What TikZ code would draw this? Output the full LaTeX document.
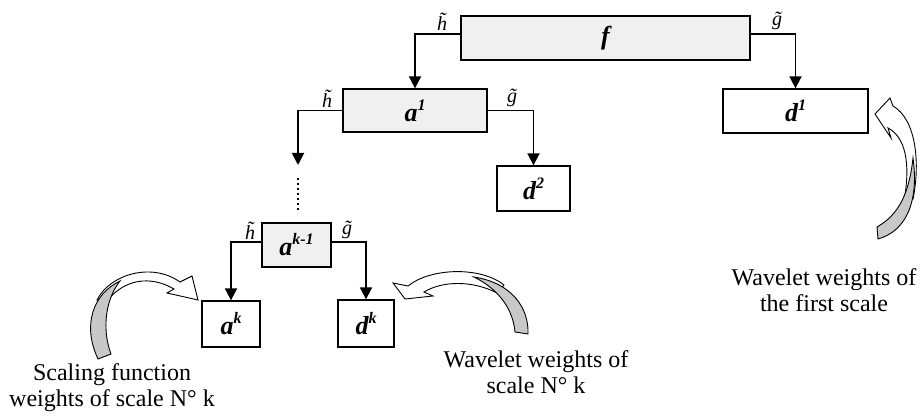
\documentclass[tikz,border=0pt]{standalone}
\usepackage{fontspec}
\setmainfont{Liberation Serif}
\usetikzlibrary{arrows.meta}
\definecolor{boxgray}{RGB}{240,240,240}
\definecolor{ribgray}{RGB}{200,200,200}
\newcommand\supsc[1]{\raisebox{0.42em}{\fontsize{16}{16}\selectfont #1}}
\tikzset{
  box/.style={draw, line width=1.3pt, inner sep=0pt, font=\fontsize{26}{28}\selectfont\bfseries\itshape},
  graybox/.style={box, fill=boxgray},
  arr/.style={line width=1.8pt, -{Triangle[width=12pt,length=12pt]}},
  filt/.style={inner sep=0pt, font=\fontsize{20}{22}\selectfont\itshape},
  captxt/.style={inner sep=0pt, align=center, anchor=north, font=\fontsize{24}{25.5}\selectfont},
  ribbon/.style={draw, line width=0.9pt, fill=white},
  crescent/.style={draw, line width=0.9pt, fill=ribgray}
}
\begin{document}
\begin{tikzpicture}[x=1pt,y=-1pt]
\useasboundingbox (0,0) rectangle (922,417);
% boxes
\node[graybox, minimum width=289pt, minimum height=44pt] (f) at (605.5,38) {f};
\node[graybox, minimum width=144pt, minimum height=43pt] (a1) at (415,110.5) {a\supsc{1}};
\node[box, minimum width=145pt, minimum height=44pt] (d1) at (795.5,111) {d\supsc{1}};
\node[box, minimum width=73pt, minimum height=45pt] (d2) at (533.5,188.5) {d\supsc{2}};
\node[graybox, minimum width=69pt, minimum height=44pt] (ak1) at (296.5,245) {a\supsc{k-1}};
\node[box, minimum width=58pt, minimum height=46pt] (ak) at (231,324) {a\supsc{k}};
\node[box, minimum width=56pt, minimum height=47pt] (dk) at (366,323.5) {d\supsc{k}};
% connectors
\draw[arr] ([yshift=4pt]f.west) -| (a1.north);
\draw[arr] ([yshift=4pt]f.east) -| (d1.north);
\coordinate (dotend) at (298,165);
\coordinate (dotA) at (298,178);
\coordinate (dotB) at (298,213);
\draw[arr] (a1.west) -| (dotend);
\draw[line width=2pt, dash pattern=on 2pt off 3pt] (dotA) -- (dotB);
\draw[arr] (a1.east) -| (d2.north);
\draw[arr] ([yshift=3pt]ak1.west) -| (ak.north);
\draw[arr] ([yshift=3pt]ak1.east) -| (dk.north);
% filter labels
\node[filt] (hf) at (442,22) {\~{h}};
\node[filt] (gf) at (777,21) {\~{g}};
\node[filt] (ha) at (327,99) {\~{h}};
\node[filt] (ga) at (512,98) {\~{g}};
\node[filt] (hk) at (250,231) {\~{h}};
\node[filt] (gk) at (347,230) {\~{g}};
% captions
\node[captxt] (c1) at (824,268.5) {Wavelet weights of\\the first scale};
\node[captxt] (c2) at (536,350.5) {Wavelet weights of\\scale N° k};
\node[captxt] (c3) at (112,363.5) {Scaling function\\weights of scale N° k};
% curved arrow: left (to a^k)
\draw[ribbon] (97,300) .. controls (110,274) and (152,262) .. (180,282)
  -- (192,276) -- (198,300) -- (167,293) -- (174,289)
  .. controls (150,275) and (124,279) .. (106,302) -- cycle;
\draw[crescent] (98,359) .. controls (82,325) and (93,294) .. (120,281)
  .. controls (105,300) and (102,330) .. (111,354) -- cycle;
% curved arrow: middle (to d^k)
\draw[ribbon] (408,286) .. controls (430,268) and (480,266) .. (504,285)
  -- (497,293) .. controls (472,280) and (442,281) .. (424,292)
  -- (433,296) -- (405,299) -- (393,283) -- cycle;
\draw[crescent] (474,277) .. controls (512,283) and (529,308) .. (528,334)
  -- (515,332) .. controls (513,310) and (500,290) .. (474,277) -- cycle;
% curved arrow: right (to d^1)
\draw[ribbon] (893,106) .. controls (917,120) and (920,165) .. (913,199)
  -- (904,201) .. controls (911,162) and (905,137) .. (888,128)
  -- (891,138) -- (875,114) -- (890,98) -- cycle;
\draw[crescent] (913,158) .. controls (919,200) and (907,231) .. (878,239)
  -- (877,227) .. controls (898,215) and (909,195) .. (913,158) -- cycle;
\end{tikzpicture}
\end{document}
